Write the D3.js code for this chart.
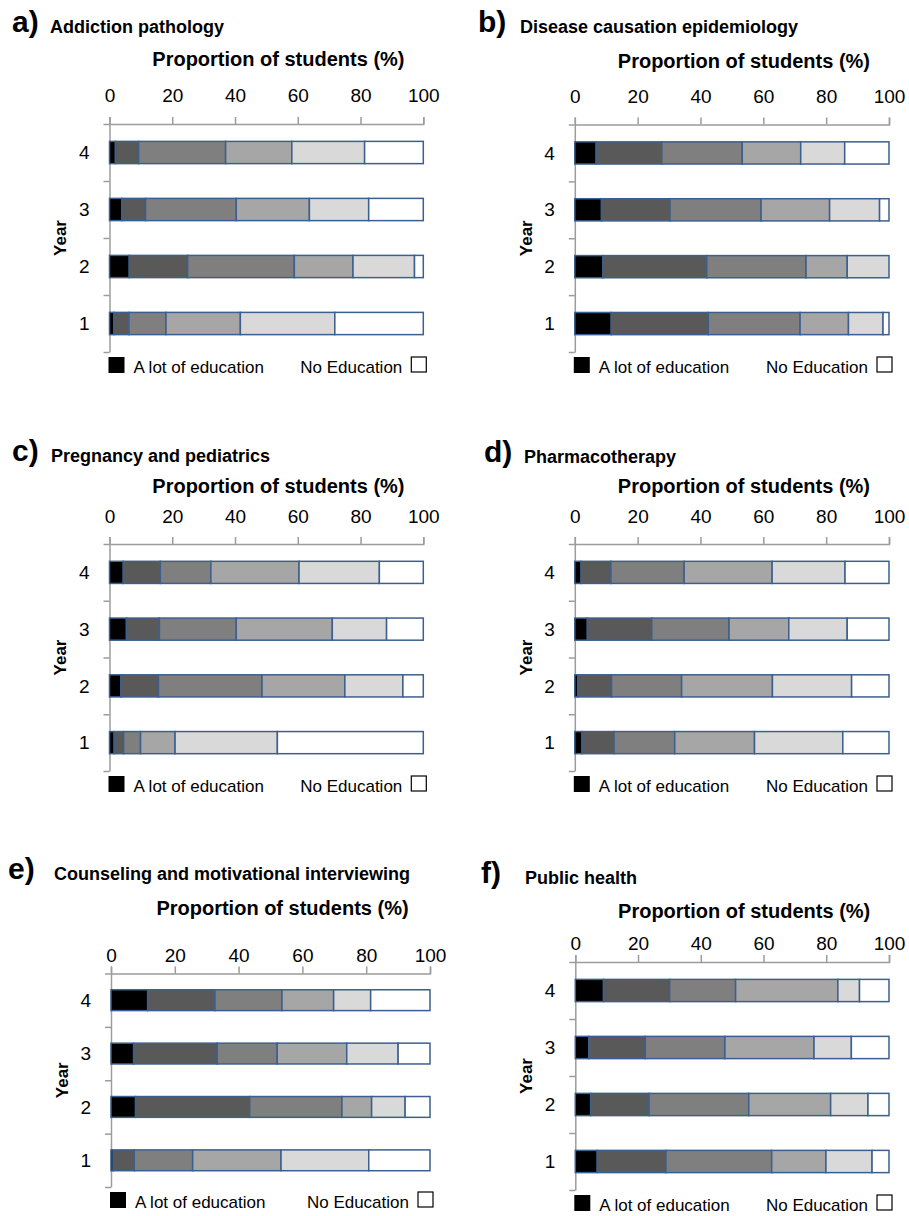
<!DOCTYPE html>
<html>
<head>
<meta charset="utf-8">
<script src="https://cdn.jsdelivr.net/npm/d3@7"></script>
<style>
  html, body { margin: 0; padding: 0; background: #fff; }
  svg { display: block; font-family: "Liberation Sans", Arial, Helvetica, sans-serif; }
</style>
</head>
<body>
<svg id="chart" width="909" height="1216"></svg>
<script>
// ---------- DATA ----------
const years = ["1", "2", "3", "4"];
const levels = ["A lot of education", "Level 2", "Level 3", "Level 4", "Level 5", "No Education"];
const levelColors = ["#000000", "#595959", "#7f7f7f", "#a6a6a6", "#d9d9d9", "#ffffff"];
const xTicks = [0, 20, 40, 60, 80, 100];
const panelLetters = ["a)", "b)", "c)", "d)", "e)", "f)"];
const panelTitles = [
  "Addiction pathology",
  "Disease causation epidemiology",
  "Pregnancy and pediatrics",
  "Pharmacotherapy",
  "Counseling and motivational interviewing",
  "Public health"
];
const xTitle = "Proportion of students (%)";
const yTitle = "Year";

// rows: year 1, 2, 3, 4 ; columns: levels (a lot → none), in %
const addictionPathology = [
  [1.4, 4.8, 11.8, 23.7, 30.1, 28.2],
  [6.3, 18.6, 34.0, 18.7, 19.6, 2.8],
  [3.9, 7.6, 28.9, 23.3, 18.9, 17.4],
  [1.9, 7.4, 27.7, 21.1, 23.2, 18.7]
];
const diseaseCausation = [
  [11.6, 30.9, 29.2, 15.4, 11.0, 1.9],
  [8.9, 33.1, 31.6, 13.1, 13.3, 0.0],
  [8.5, 21.8, 29.0, 21.8, 15.9, 3.0],
  [6.8, 20.9, 25.6, 18.6, 14.0, 14.1]
];
const pregnancyPediatrics = [
  [1.5, 3.0, 5.4, 11.0, 32.6, 46.5],
  [3.6, 12.0, 33.0, 26.4, 18.5, 6.5],
  [5.4, 10.5, 24.5, 30.6, 17.3, 11.7],
  [4.4, 11.8, 16.1, 28.1, 25.6, 14.0]
];
const pharmacotherapy = [
  [2.3, 10.2, 19.3, 25.4, 28.1, 14.7],
  [1.0, 10.7, 22.3, 28.9, 25.2, 11.9],
  [4.0, 20.5, 24.6, 19.0, 18.6, 13.3],
  [2.0, 9.5, 23.3, 28.0, 23.2, 14.0]
];
const counseling = [
  [0.7, 6.6, 18.3, 27.7, 27.5, 19.2],
  [7.7, 35.8, 28.9, 9.3, 10.5, 7.8],
  [7.1, 26.2, 18.8, 21.8, 16.1, 10.0],
  [11.5, 21.1, 21.0, 16.2, 11.6, 18.6]
];
const publicHealth = [
  [7.0, 21.9, 33.7, 17.3, 14.7, 5.4],
  [4.9, 18.6, 31.8, 26.1, 11.9, 6.7],
  [4.3, 18.0, 25.4, 28.4, 11.9, 12.0],
  [9.0, 21.1, 21.0, 32.6, 6.9, 9.4]
];
const panelData = [addictionPathology, diseaseCausation, pregnancyPediatrics,
                   pharmacotherapy, counseling, publicHealth];

// ---------- LAYOUT ----------
const layout = [
  {x0: 109.5, x1: 423.3, top: 124,   bottom: 352,  letterX: 12,  titleX: 50,  titleY: 33,  propY: 66,  tickPad: 15},
  {x0: 574.8, x1: 889,   top: 124.5, bottom: 352,  letterX: 478, titleX: 520, titleY: 33,  propY: 68,  tickPad: 15},
  {x0: 109.5, x1: 423.3, top: 544,   bottom: 771,  letterX: 12,  titleX: 51,  titleY: 462, propY: 493, tickPad: 14},
  {x0: 574.8, x1: 889,   top: 544,   bottom: 771,  letterX: 484, titleX: 524, titleY: 463, propY: 493, tickPad: 14},
  {x0: 111,   x1: 430,   top: 973.5, bottom: 1187, letterX: 8,   titleX: 54,  titleY: 880, propY: 915, tickPad: 4.5},
  {x0: 575.3, x1: 889,   top: 962,   bottom: 1190, letterX: 481, titleX: 525, titleY: 884, propY: 918, tickPad: 5}
];

const axisColor = "#9c9c9c";
const barStroke = "#3d5f8f";

const svg = d3.select("#chart");

panelData.forEach((rows, pi) => {
  const L = layout[pi];
  const g = svg.append("g");

  const x = d3.scaleLinear().domain([0, 100]).range([L.x0, L.x1]);
  const yBand = d3.scaleBand().domain(years.slice().reverse())
    .range([L.top, L.bottom]).paddingInner(0.61).paddingOuter(0.305);
  const yLin = d3.scaleLinear().domain([0, years.length]).range([L.top, L.bottom]);

  // Title
  g.append("text").attr("x", L.letterX).attr("y", L.titleY - 1)
    .attr("font-size", 30).attr("font-weight", "bold").attr("fill", "#000")
    .text(panelLetters[pi]);
  g.append("text").attr("x", L.titleX).attr("y", L.titleY)
    .attr("font-size", 18).attr("font-weight", "bold").attr("fill", "#000")
    .text(panelTitles[pi]);

  // X axis title
  g.append("text").attr("x", (L.x0 + L.x1) / 2 + 12).attr("y", L.propY)
    .attr("text-anchor", "middle").attr("font-size", 20).attr("font-weight", "bold")
    .text(xTitle);

  // X axis (top)
  const xAxis = g.append("g").attr("transform", `translate(0,${L.top})`)
    .call(d3.axisTop(x).tickValues(xTicks).tickSize(7).tickSizeOuter(7)
      .tickPadding(L.tickPad).tickFormat(d3.format("d")));
  xAxis.select(".domain").attr("stroke", axisColor).attr("stroke-width", 1.5);
  xAxis.selectAll(".tick line").attr("stroke", axisColor).attr("stroke-width", 1.5);
  xAxis.selectAll(".tick text").attr("font-size", 19).attr("fill", "#000")
    .attr("font-family", "'Liberation Sans', Arial, sans-serif");

  // Y axis (left) with boundary ticks
  const yAxis = g.append("g").attr("transform", `translate(${L.x0},0)`)
    .call(d3.axisLeft(yLin).tickValues(d3.range(0, years.length + 1))
      .tickSize(6).tickSizeOuter(0).tickFormat(""));
  yAxis.select(".domain").attr("stroke", axisColor).attr("stroke-width", 1.5);
  yAxis.selectAll(".tick line").attr("stroke", axisColor).attr("stroke-width", 1.5);

  // Year labels
  g.selectAll("text.ylab").data(years).enter().append("text")
    .attr("class", "ylab")
    .attr("x", L.x0 - 20)
    .attr("y", d => yBand(d) + yBand.bandwidth() / 2)
    .attr("dy", "0.35em").attr("text-anchor", "end").attr("font-size", 19)
    .text(d => d);

  // Y title
  g.append("text")
    .attr("transform", `translate(${L.x0 - 49},${(L.top + L.bottom) / 2}) rotate(-90)`)
    .attr("text-anchor", "middle").attr("dy", "0.35em")
    .attr("font-size", 17).attr("font-weight", "bold")
    .text(yTitle);

  // Stacked bars
  const table = rows.map((vals, i) => {
    const o = {year: years[i]};
    levels.forEach((lv, j) => o[lv] = vals[j]);
    return o;
  });
  const series = d3.stack().keys(levels)(table);
  g.selectAll("g.series").data(series).enter().append("g")
    .attr("class", "series")
    .attr("fill", (d, i) => levelColors[i])
    .selectAll("rect").data(d => d.filter(s => s[1] - s[0] > 0)).enter().append("rect")
    .attr("x", d => x(d[0]))
    .attr("width", d => x(d[1]) - x(d[0]))
    .attr("y", d => yBand(d.data.year))
    .attr("height", yBand.bandwidth())
    .attr("stroke", barStroke).attr("stroke-width", 1.5);

  // Legend
  const legTop = L.bottom + 5;
  g.append("rect").attr("x", L.x0 - 1).attr("y", legTop).attr("width", 16).attr("height", 16)
    .attr("fill", levelColors[0]);
  g.append("text").attr("x", L.x0 + 24).attr("y", L.bottom + 21)
    .attr("font-size", 17).text(levels[0]);
  const boxX = L.x1 + 3 - 15;
  g.append("rect").attr("x", boxX).attr("y", legTop).attr("width", 15).attr("height", 15)
    .attr("fill", levelColors[5]).attr("stroke", "#000").attr("stroke-width", 1.2);
  g.append("text").attr("x", boxX - 9).attr("y", L.bottom + 21)
    .attr("text-anchor", "end").attr("font-size", 17).text(levels[5]);
});
</script>
</body>
</html>
